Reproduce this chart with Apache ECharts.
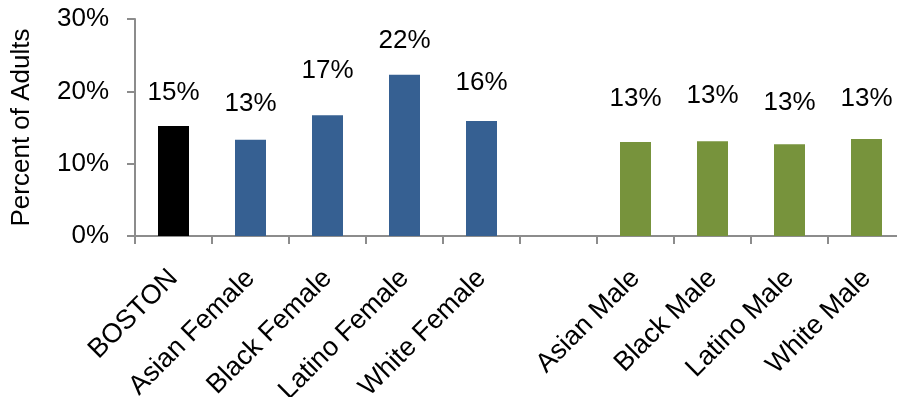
<!DOCTYPE html>
<html>
<head>
<meta charset="utf-8">
<script src="https://cdn.jsdelivr.net/npm/echarts@6/dist/echarts.min.js"></script>
<style>
html,body{margin:0;padding:0;background:#fff;}
#chart{width:897px;height:397px;}
</style>
</head>
<body>
<div id="chart"></div>
<script>
// ---- data ----
const categories = ['BOSTON', 'Asian Female', 'Black Female', 'Latino Female', 'White Female', '', 'Asian Male', 'Black Male', 'Latino Male', 'White Male'];
const values = [15.2, 13.3, 16.7, 22.3, 15.9, null, 13.0, 13.1, 12.7, 13.4];
const groups = ['total', 'female', 'female', 'female', 'female', 'none', 'male', 'male', 'male', 'male'];
const yTicks = [0, 10, 20, 30];
const yAxisTitle = 'Percent of Adults';

// ---- styling (not data) ----
const groupColors = { total: '#000000', female: '#366092', male: '#77933C', none: '#ffffff' };
const labelGap = [20, 23, 31, 21, 25, 0, 30, 32, 28, 27];
const FONT = '"Liberation Sans", Arial, sans-serif';

const seriesData = values.map((v, i) => ({
  value: v,
  itemStyle: { color: groupColors[groups[i]] },
  label: { distance: labelGap[i] }
}));

const chart = echarts.init(document.getElementById('chart'), null, { renderer: 'canvas' });
chart.setOption({
  animation: false,
  backgroundColor: '#ffffff',
  grid: { left: 135, top: 19, bottom: 161, width: 770, containLabel: false, outerBoundsMode: 'none' },
  xAxis: {
    type: 'category',
    data: categories,
    boundaryGap: true,
    axisLine: { lineStyle: { color: '#8c8c8c', width: 2 } },
    axisTick: { show: true, alignWithLabel: false, length: 8, interval: 0, lineStyle: { color: '#8c8c8c', width: 2 } },
    axisLabel: { interval: 0, rotate: 45, fontSize: 27, fontFamily: FONT, color: '#000', margin: 38 }
  },
  yAxis: {
    type: 'value',
    min: yTicks[0],
    max: yTicks[yTicks.length - 1],
    interval: 10,
    name: yAxisTitle,
    nameLocation: 'middle',
    nameRotate: 90,
    nameGap: 100,
    nameTextStyle: { fontSize: 26, fontFamily: FONT, color: '#000' },
    axisLine: { show: true, lineStyle: { color: '#8c8c8c', width: 2 } },
    axisTick: { show: true, length: 8, lineStyle: { color: '#8c8c8c', width: 2 } },
    splitLine: { show: false },
    axisLabel: { formatter: '{value}%', fontSize: 26, fontFamily: FONT, color: '#000', margin: 26 }
  },
  series: [{
    type: 'bar',
    data: seriesData,
    barWidth: 31,
    label: {
      show: true,
      position: 'top',
      fontSize: 26,
      fontFamily: FONT,
      color: '#000',
      formatter: p => (p.value == null ? '' : Math.round(p.value) + '%')
    }
  }]
});
</script>
</body>
</html>
